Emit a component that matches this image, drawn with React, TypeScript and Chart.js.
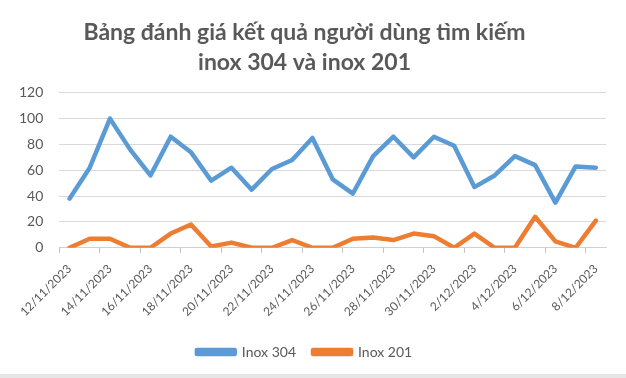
import React, { useEffect, useRef } from "react";
import { Chart, registerables } from "chart.js";

Chart.register(...registerables);

const titleLines = ["Bảng đánh giá kết quả người dùng tìm kiếm", "inox 304 và inox 201"];

const dates = [
  "12/11/2023", "13/11/2023", "14/11/2023", "15/11/2023", "16/11/2023", "17/11/2023",
  "18/11/2023", "19/11/2023", "20/11/2023", "21/11/2023", "22/11/2023", "23/11/2023",
  "24/11/2023", "25/11/2023", "26/11/2023", "27/11/2023", "28/11/2023", "29/11/2023",
  "30/11/2023", "1/12/2023", "2/12/2023", "3/12/2023", "4/12/2023", "5/12/2023",
  "6/12/2023", "7/12/2023", "8/12/2023",
];

const inox304 = [38, 62, 100, 76, 56, 86, 74, 52, 62, 45, 61, 68, 85, 53, 42, 71, 86, 70, 86, 79, 47, 56, 71, 64, 35, 63, 62];
const inox201 = [0, 7, 7, 0, 0, 11, 18, 1, 4, 0, 0, 6, 0, 0, 7, 8, 6, 11, 9, 0, 11, 0, 0, 24, 5, 0, 21];

const seriesNames = ["Inox 304", "Inox 201"];
const seriesColors = ["#5B9BD5", "#ED7D31"];

const yTicks = { min: 0, max: 120, step: 20 };

export default function App() {
  const ref = useRef<HTMLCanvasElement>(null);

  useEffect(() => {
    if (!ref.current) return;
    const font = "Lato, 'Open Sans', sans-serif";
    const chart = new Chart(ref.current, {
      type: "line",
      data: {
        labels: dates,
        datasets: [
          {
            label: seriesNames[0],
            data: inox304,
            borderColor: seriesColors[0],
            backgroundColor: seriesColors[0],
            borderWidth: 4.5,
            pointRadius: 0,
            tension: 0,
            borderJoinStyle: "round",
            borderCapStyle: "round",
          },
          {
            label: seriesNames[1],
            data: inox201,
            borderColor: seriesColors[1],
            backgroundColor: seriesColors[1],
            borderWidth: 4.5,
            pointRadius: 0,
            tension: 0,
            borderJoinStyle: "round",
            borderCapStyle: "round",
          },
        ],
      },
      options: {
        responsive: false,
        animation: false,
        devicePixelRatio: 1,
        layout: { padding: { left: 3, right: 20, top: 0, bottom: 5 } },
        plugins: {
          title: {
            display: true,
            text: titleLines,
            color: "#595959",
            font: { family: font, size: 23, weight: "bold", lineHeight: 1.3 },
            padding: { top: 18, bottom: 15 },
          },
          legend: {
            position: "bottom",
            labels: {
              color: "#595959",
              font: { family: font, size: 14 },
              boxWidth: 38,
              boxHeight: 4,
              padding: 17,
            },
          },
          tooltip: { enabled: false },
        },
        scales: {
          x: {
            offset: true,
            grid: {
              offset: true,
              drawOnChartArea: false,
              drawTicks: true,
              tickLength: 5,
              tickColor: (ctx: any) => (ctx.index % 2 === 0 ? "#bfbfbf" : "rgba(0,0,0,0)"),
            },
            border: { display: true, color: "#d0d0d0", width: 1 },
            ticks: {
              autoSkip: false,
              minRotation: 45,
              maxRotation: 45,
              padding: 9,
              color: "#595959",
              font: { family: font, size: 12 },
              callback: (_v: any, i: number) => (i % 2 === 0 ? dates[i] : ""),
            },
          },
          y: {
            min: yTicks.min,
            max: yTicks.max,
            grid: { color: "#d9d9d9", drawTicks: false, lineWidth: 1 },
            border: { display: false },
            ticks: {
              stepSize: yTicks.step,
              padding: 16,
              color: "#595959",
              font: { family: font, size: 14 },
            },
          },
        },
      },
    });
    return () => chart.destroy();
  }, []);

  return (
    <div style={{ position: "fixed", left: 0, top: 0, width: 626, height: 378, background: "#fff" }}>
      <canvas ref={ref} width={626} height={374} style={{ display: "block" }} />
      <div style={{ height: 4, background: "#e6e6e6" }} />
    </div>
  );
}
